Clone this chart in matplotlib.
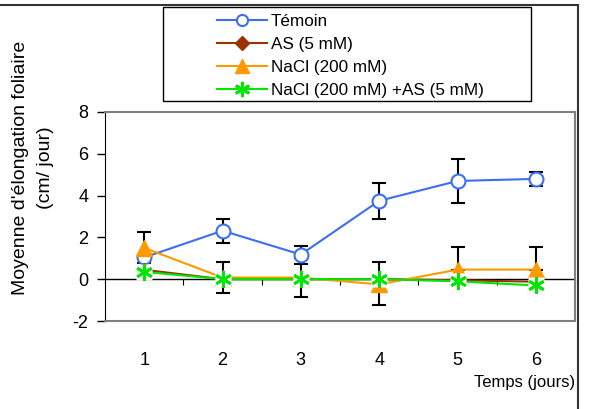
import matplotlib
matplotlib.use('Agg')
import matplotlib.pyplot as plt
from matplotlib.lines import Line2D
from matplotlib.patches import Rectangle

plt.rcParams['font.family'] = ['Liberation Sans', 'DejaVu Sans']
plt.rcParams['axes.unicode_minus'] = False

jours = [1, 2, 3, 4, 5, 6]
temoin = [1.04, 2.32, 1.18, 3.75, 4.70, 4.80]
temoin_err_bas = [0, 0.57, 0.43, 0.86, 1.05, 0.35]
temoin_err_haut = [0, 0.57, 0.43, 0.86, 1.05, 0.35]
as5 = [0.45, 0.0, 0.0, 0.0, -0.05, -0.12]
nacl = [1.5, 0.08, 0.08, -0.25, 0.46, 0.46]
nacl_err_bas = [0.72, 0.75, 0.95, 1.0, 0, 0]
nacl_err_haut = [0.76, 0.75, 0.95, 1.05, 1.06, 1.06]
nacl_as = [0.35, 0.0, 0.0, 0.0, -0.1, -0.3]

noms = ['Témoin', 'AS (5 mM)', 'NaCl (200 mM)', 'NaCl (200 mM) +AS (5 mM)']
colores = {'b': '#3d6ef2', 'm': '#993300', 'o': '#ff9900', 'g': '#00e600', 'gr': '#808080'}
etoile = (6, 2, 0)

fig = plt.figure(figsize=(5.92, 4.09), dpi=100)
ax = fig.add_axes([105/592, 88/409, 470/592, 209/409])

ax.errorbar(jours, temoin, yerr=[temoin_err_bas, temoin_err_haut], fmt='none',
            ecolor='black', elinewidth=1.5, capsize=5, capthick=1.5, zorder=2)
ax.errorbar(jours, nacl, yerr=[nacl_err_bas, nacl_err_haut], fmt='none',
            ecolor='black', elinewidth=1.5, capsize=5, capthick=1.5, zorder=2)

ax.plot(jours, temoin, c=colores['b'], lw=1.5, marker='o', ms=10,
        mfc='white', mec=colores['b'], mew=1.5, zorder=3)
ax.plot(jours, as5, c=colores['m'], lw=1.5, marker='D', ms=7,
        mfc=colores['m'], mec=colores['m'], zorder=4)
ax.plot(jours, nacl, c=colores['o'], lw=1.5, marker='^', ms=11,
        mfc=colores['o'], mec=colores['o'], zorder=5)
ax.plot(jours, nacl_as, c=colores['g'], lw=1.5, zorder=6)
ax.plot(jours, nacl_as, ls='none', marker='s', ms=11, mfc='white', mec='none', zorder=7)
ax.plot(jours, nacl_as, ls='none', marker=etoile, ms=12, mec=colores['g'], mew=2, zorder=8)

ax.set_xlim(0.5, 6.5)
ax.set_ylim(-2, 8)
ax.set_yticks([-2, 0, 2, 4, 6, 8])
ax.set_xticks(jours)
ax.tick_params(axis='x', length=0, pad=22, labelsize=13)
ax.tick_params(axis='y', direction='out', length=6, width=1, pad=6, labelsize=13)
for s in ['top', 'right', 'bottom']:
    ax.spines[s].set_color(colores['gr'])
    ax.spines[s].set_linewidth(1.5)
ax.spines['left'].set_color('black')

# axe des x a y = 0
ax.axhline(0, color='black', lw=1, zorder=1)
sec = ax.secondary_xaxis(0.2)
sec.set_xticks([1.5, 2.5, 3.5, 4.5, 5.5, 6.5])
sec.tick_params(direction='out', length=4, labelbottom=False)
sec.spines['bottom'].set_visible(False)

fig.text(33/592, 1 - 168/409, "Moyenne d'élongation foliaire\n(cm/ jour)",
         rotation=90, ha='center', va='center', multialignment='center', fontsize=14,
         linespacing=1.55)
fig.text(575/592, 1 - 383/409, 'Temps (jours)', ha='right', va='center', fontsize=12)

# legende
fig.patches.append(Rectangle((163/592, 1 - 101/409), 368/592, 94/409, transform=fig.transFigure,
                             fill=False, ec='black', lw=1))
poignees = [Line2D([], [], c=colores['b'], lw=1.5, marker='o', ms=8, mfc='white', mec=colores['b'], mew=1.5),
            Line2D([], [], c=colores['m'], lw=1.5, marker='D', ms=7, mfc=colores['m'], mec=colores['m']),
            Line2D([], [], c=colores['o'], lw=1.5, marker='^', ms=10, mfc=colores['o'], mec=colores['o']),
            Line2D([], [], c=colores['g'], lw=1.5, marker=etoile, ms=11, mec=colores['g'], mew=2)]
fig.legend(poignees, noms, loc='upper left', bbox_to_anchor=(205/592, 1 - 2/409), frameon=False,
           fontsize=12.3, handlelength=2.9, handletextpad=0.25, labelspacing=0.47, borderpad=0.2)

# cadre exterieur
fig.add_artist(Line2D([0, 578/592], [1 - 5/409, 1 - 5/409], transform=fig.transFigure, c='#333333', lw=1.5))
fig.add_artist(Line2D([578/592, 578/592], [0, 1 - 5/409], transform=fig.transFigure, c='#333333', lw=1.5))

fig.savefig('out.png', dpi=100)
